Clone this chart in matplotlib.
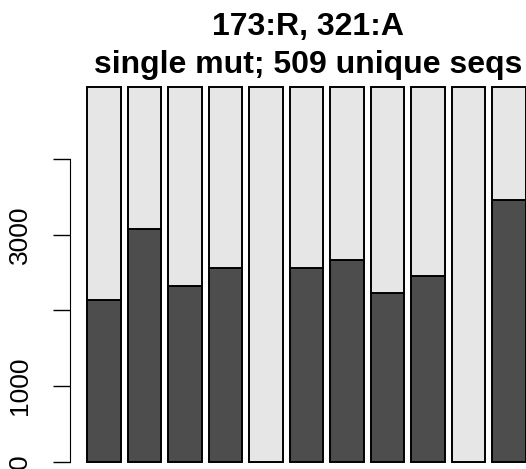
import matplotlib
matplotlib.use("Agg")
import matplotlib.pyplot as plt
import numpy as np

# valores
total = 4963
oscuro = [2135, 3078, 2328, 2558, 0, 2558, 2664, 2235, 2452, 0, 3466]
claro = [total - v for v in oscuro]
ticks = [0, 1000, 2000, 3000, 4000]
tick_labels = ["0", "1000", "", "3000", ""]
titulo1 = "173:R, 321:A"
titulo2 = "single mut; 509 unique seqs"

plt.rcParams['font.family'] = ['Liberation Sans', 'DejaVu Sans']

W, H = 526, 469
fig = plt.figure(figsize=(W / 100, H / 100), dpi=100)
ax = fig.add_axes([69.5 / W, (H - 476.7) / H, 473.9 / W, 405.2 / H])

n = len(oscuro)
x = 0.2 + np.arange(n) * 1.2
ax.bar(x, oscuro, width=1, align='edge', color='#4d4d4d', edgecolor='black', linewidth=1.4)
ax.bar(x, claro, width=1, bottom=oscuro, align='edge', color='#e6e6e6', edgecolor='black', linewidth=1.4)

ax.set_xlim(-0.32, 13.72)
ax.set_ylim(-198.5, 5161.5)
ax.set_xticks([])
ax.tick_params(axis='y', length=12, width=1, pad=15, labelsize=19, labelrotation=90)
ax.set_yticks(ticks)
ax.set_yticklabels(tick_labels)
for lab in ax.get_yticklabels():
    lab.set_va('center')
for s in ['top', 'right', 'bottom']:
    ax.spines[s].set_visible(False)
ax.spines['left'].set_bounds(0, 4000)
ax.patch.set_visible(False)

fig.text(308 / W, 1 - 35 / H, titulo1, ha='center', va='baseline', fontsize=23, fontweight='bold')
fig.text(308 / W, 1 - 73 / H, titulo2, ha='center', va='baseline', fontsize=23, fontweight='bold')

fig.savefig("out.png", dpi=100)
